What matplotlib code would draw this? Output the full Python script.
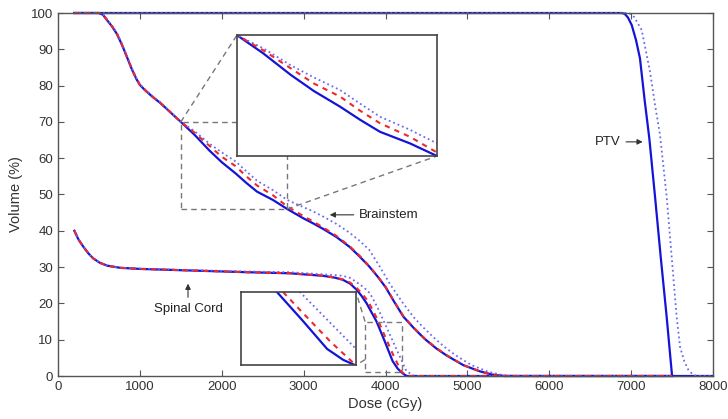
import numpy as np
import matplotlib
matplotlib.use('Agg')
import matplotlib.pyplot as plt
from matplotlib.patches import Rectangle

plt.rcParams['font.family'] = ['Liberation Sans', 'DejaVu Sans']

# PTV
ptv_dose = [200, 6880, 6920, 6960, 7007, 7060, 7108, 7165, 7222, 7292, 7361, 7434, 7500, 8000]
ptv_vol = [100, 100, 99.8, 98.8, 96.7, 92.5, 87.5, 76, 65.5, 49.4, 32.9, 16.3, 0, 0]
ptv_dot_dose = [200, 6960, 7000, 7040, 7129, 7231, 7292, 7353, 7434, 7495, 7556, 7597, 7650, 7699, 7750, 7800, 8000]
ptv_dot_vol = [100, 100, 99.7, 98.8, 95.3, 83.8, 74.7, 66.4, 49.4, 32.9, 16.3, 8.1, 4, 1.7, 0.5, 0, 0]

# Brainstem
bs_dose = [200, 500, 550, 600, 660, 720, 780, 840, 900, 960, 1000, 1060, 1150, 1250, 1370,
           1500, 1670, 1850, 2000, 2170, 2300, 2430, 2625, 2800, 3000, 3120, 3240, 3400, 3560,
           3680, 3800, 3900, 4000, 4110, 4220, 4350, 4480, 4620, 4750, 4950, 5150, 5300, 5450, 7500]
bs_vol = [100, 100, 99.5, 98, 96.3, 94.2, 91.3, 88, 84.6, 81.7, 80.2, 78.8, 77.0, 75.2, 72.7,
          70, 66.4, 62.1, 58.9, 55.8, 53.2, 50.8, 48.5, 46, 43.4, 42.0, 40.5, 38.3, 35.6,
          33.0, 30.2, 27.5, 24.5, 20.3, 16.3, 13.1, 10.2, 7.6, 5.6, 3.0, 1.3, 0.4, 0, 0]
bs_red_vol = [100, 100, 99.5, 98, 96.3, 94.2, 91.3, 88, 84.6, 81.7, 80.2, 78.8, 77.0, 75.2, 72.7,
              70, 67.0, 63.4, 60.4, 57.8, 55.0, 52.5, 49.8, 46.7, 44.0, 42.5, 40.9, 38.6, 35.8,
              33.2, 30.3, 27.6, 24.6, 20.4, 16.4, 13.2, 10.3, 7.7, 5.7, 3.0, 1.3, 0.4, 0, 0]
bs_dot_dose = [200, 500, 550, 600, 660, 720, 780, 840, 900, 960, 1000, 1060, 1150, 1250, 1370,
               1500, 1670, 1850, 2000, 2170, 2300, 2430, 2625, 2800, 3000, 3120, 3240, 3400, 3560,
               3680, 3800, 3920, 4050, 4200, 4340, 4460, 4580, 4720, 4850, 5050, 5250, 5420, 5550, 7500]
bs_dot_vol = [100, 100, 99.6, 98.2, 96.5, 94.5, 91.6, 88.3, 84.9, 82.0, 80.4, 79.0, 77.2, 75.4, 72.8,
              70, 67.4, 64.0, 61.6, 59.1, 56.4, 53.8, 51.2, 48.5, 46.5, 45.3, 43.9, 41.9, 39.5,
              37.3, 34.8, 30.5, 25.5, 20.5, 16.3, 13.4, 10.8, 8.0, 5.8, 3.0, 1.2, 0.3, 0, 0]

# Spinal cord
sc_dose = [200, 250, 310, 370, 430, 510, 600, 760, 1000, 1570, 2300, 2830, 3240, 3380, 3480,
           3570, 3650, 3710, 3770, 3891, 3990, 4087, 4150, 4196, 4230, 4260, 7500]
sc_vol = [40, 37.6, 35.6, 33.8, 32.4, 31.2, 30.4, 29.8, 29.5, 29.1, 28.6, 28.3, 27.6, 27.1, 26.5,
          25.4, 23.7, 22.0, 20, 15, 9.6, 4.1, 2.0, 1.0, 0.4, 0, 0]
sc_red_dose = [200, 250, 310, 370, 430, 510, 600, 760, 1000, 1570, 2300, 2830, 3240, 3380, 3480,
               3570, 3650, 3720, 3790, 3915, 4000, 4100, 4190, 4230, 4270, 7500]
sc_red_vol = [40, 37.6, 35.6, 33.8, 32.4, 31.2, 30.4, 29.8, 29.5, 29.1, 28.6, 28.3, 27.6, 27.1, 26.6,
              25.7, 24.2, 22.5, 20.5, 15, 10.6, 5.5, 1.4, 0.5, 0, 0]
sc_dot_dose = [200, 250, 310, 370, 430, 510, 600, 760, 1000, 1570, 2300, 2830, 3240, 3380, 3480,
               3570, 3650, 3730, 3810, 3900, 3981, 4196, 4250, 4320, 4360, 7500]
sc_dot_vol = [40, 37.6, 35.6, 33.8, 32.4, 31.2, 30.4, 29.8, 29.6, 29.2, 28.8, 28.6, 28.0, 27.8, 27.6,
              27.0, 25.8, 24.5, 22.8, 19.0, 15, 4.3, 1.6, 0.3, 0, 0]

# zoom windows (dose range, volume range) and where the insets sit (data coords)
zoom1 = (1500, 2800, 46, 70)
zoom2 = (3750, 4200, 1, 15)
inset1_box = (2186, 60.6, 2443, 33.3)
inset2_box = (2235, 3.0, 1405, 20.1)

SOLID = '#1414d8'
DOT = '#6a6af2'
RED = '#f02828'
GRAY = '#555555'


def draw_curves(a, clip=True):
    a.plot(ptv_dose, ptv_vol, color=SOLID, lw=1.6, clip_on=clip)
    a.plot(ptv_dot_dose, ptv_dot_vol, color=DOT, lw=1.3, ls=':', clip_on=clip)
    a.plot(bs_dose, bs_vol, color=SOLID, lw=1.6, clip_on=clip)
    a.plot(bs_dot_dose, bs_dot_vol, color=DOT, lw=1.3, ls=':', clip_on=clip)
    a.plot(bs_dose, bs_red_vol, color=RED, lw=1.5, ls=(0, (2.5, 2.5)), clip_on=clip)
    a.plot(sc_dose, sc_vol, color=SOLID, lw=1.6, clip_on=clip)
    a.plot(sc_dot_dose, sc_dot_vol, color=DOT, lw=1.3, ls=':', clip_on=clip)
    a.plot(sc_red_dose, sc_red_vol, color=RED, lw=1.5, ls=(0, (2.5, 2.5)), clip_on=clip)


fig = plt.figure(figsize=(7.28, 4.19), dpi=100)
ax = fig.add_axes([58 / 728, 43 / 419, 655 / 728, 363 / 419])
draw_curves(ax, clip=False)

ax.set_xlim(0, 8000)
ax.set_ylim(0, 100)
ax.set_xticks(np.arange(0, 8001, 1000))
ax.set_yticks(np.arange(0, 101, 10))
ax.tick_params(direction='in', top=True, right=True, length=4, colors=GRAY,
               labelcolor='#333333', labelsize=9.5)
for s in ax.spines.values():
    s.set_color(GRAY)
    s.set_linewidth(1.0)
ax.set_xlabel('Dose (cGy)', fontsize=10.5, color='#333333', labelpad=3)
ax.set_ylabel('Volume (%)', fontsize=10.5, color='#333333', labelpad=6)

# zoom rectangles + connector lines
dash = dict(color='#777777', lw=1.0, ls=(0, (4, 3)))
for (x0, x1, y0, y1) in (zoom1, zoom2):
    ax.add_patch(Rectangle((x0, y0), x1 - x0, y1 - y0, fill=False, ec='#777777',
                           lw=1.0, ls=(0, (4, 3)), zorder=3))
bx, by, bw, bh = inset1_box
ax.plot([zoom1[0], bx], [zoom1[3], by + bh], zorder=3, **dash)
ax.plot([zoom1[1], bx + bw], [zoom1[2], by], zorder=3, **dash)
bx, by, bw, bh = inset2_box
ax.plot([zoom2[0], bx + bw], [zoom2[3], by + bh], zorder=3, **dash)
ax.plot([zoom2[0], bx + bw], [zoom2[2] + 3.5, by], zorder=3, **dash)

for box, z in ((inset1_box, zoom1), (inset2_box, zoom2)):
    axins = ax.inset_axes(list(box), transform=ax.transData)
    draw_curves(axins)
    axins.set_xlim(z[0], z[1])
    axins.set_ylim(z[2], z[3])
    axins.set_xticks([])
    axins.set_yticks([])
    for s in axins.spines.values():
        s.set_color('#444444')
        s.set_linewidth(1.2)

# labels
arrow = dict(arrowstyle='-|>', color='#333333', lw=0.8, mutation_scale=8)
ax.annotate('Brainstem', xy=(3285, 44.4), xytext=(3680, 44.4), ha='left', va='center',
            fontsize=9.5, color='#222222', arrowprops=arrow)
ax.annotate('PTV', xy=(7175, 64.5), xytext=(6870, 64.5), ha='right', va='center',
            fontsize=9.5, color='#222222', arrowprops=arrow)
ax.annotate('Spinal Cord', xy=(1588, 26.2), xytext=(1588, 18.5), ha='center', va='center',
            fontsize=9.5, color='#222222', arrowprops=arrow)

fig.savefig('out.png', dpi=100)
